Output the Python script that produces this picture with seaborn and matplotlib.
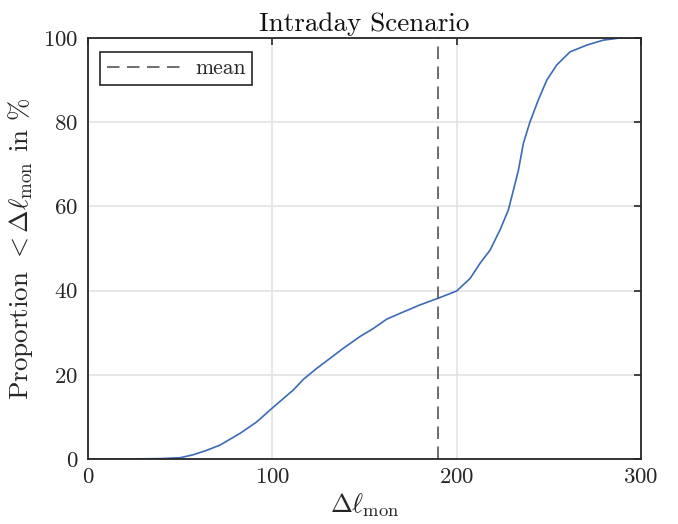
import matplotlib

matplotlib.use("Agg")
import matplotlib.pyplot as plt
import seaborn as sns
import pandas as pd

delta_mon = [0, 20, 40, 50, 57, 64, 71.6, 82.5, 91.5, 99.7, 111.4, 116.8, 124, 131.3,
             138.5, 147.6, 154.8, 162, 169.3, 180.1, 190, 200, 207.3, 212.7, 218.1,
             223.5, 228, 230.8, 233.5, 236.2, 239.8, 244.3, 248.9, 254.3, 261.5,
             270.5, 279.6, 288.6, 295]
proportion = [0, 0, 0.1, 0.3, 1.0, 2.0, 3.3, 6.1, 8.8, 12.0, 16.4, 18.9, 21.5, 23.9,
              26.3, 29.1, 31.0, 33.2, 34.6, 36.6, 38.2, 39.9, 42.9, 46.5, 49.6,
              54.4, 59.1, 63.9, 68.6, 75.0, 80.1, 85.3, 90.0, 93.6, 96.7,
              98.3, 99.5, 100, 100]
mean_value = 190

sns.set_theme(style="whitegrid")
plt.rcParams["font.family"] = ["cmr10", "DejaVu Serif"]
plt.rcParams["mathtext.fontset"] = "cm"
plt.rcParams["axes.formatter.use_mathtext"] = True

fig = plt.figure(figsize=(6.78, 5.24), dpi=100)
ax = fig.add_axes([88 / 678, 1 - 459 / 524, (641 - 88) / 678, (459 - 38) / 524])

df = pd.DataFrame({"x": delta_mon, "y": proportion})
sns.lineplot(data=df, x="x", y="y", ax=ax, color="#3b6bb8", linewidth=1.2)
ax.axvline(mean_value, color="#555555", linewidth=1.2, dashes=(7.5, 4.5), label="mean")

ax.set_xlim(0, 300)
ax.set_ylim(0, 100)
ax.set_xticks([0, 100, 200, 300])
ax.set_yticks([0, 20, 40, 60, 80, 100])
ax.set_facecolor("white")
ax.grid(True, color="#e3e3e3", linewidth=1.2)
for side in ax.spines.values():
    side.set_color("#262626")
    side.set_linewidth(1.3)
ax.tick_params(axis="both", which="both", direction="in", length=5, width=1.2,
               color="#262626", top=True, right=True, labelsize=16.5, pad=7,
               labelcolor="#262626")
ax.tick_params(axis="x", pad=6)

ax.set_title("Intraday Scenario", fontsize=19.5, color="#111111", pad=5)
ax.set_xlabel(r"$\Delta\ell_{\mathrm{mon}}$", fontsize=19, color="#262626", labelpad=3)
ax.set_ylabel(r"Proportion $<\Delta\ell_{\mathrm{mon}}$ in $\%$", fontsize=19.5,
              color="#262626", labelpad=6)

leg = ax.legend(loc="upper left", fontsize=15.5, fancybox=False, framealpha=1,
                edgecolor="#262626", handlelength=3.7, handletextpad=0.4,
                borderpad=0.3, bbox_to_anchor=(0.003, 0.992))
leg.get_frame().set_linewidth(1.2)

fig.savefig("out.png", dpi=100)
plt.close(fig)
